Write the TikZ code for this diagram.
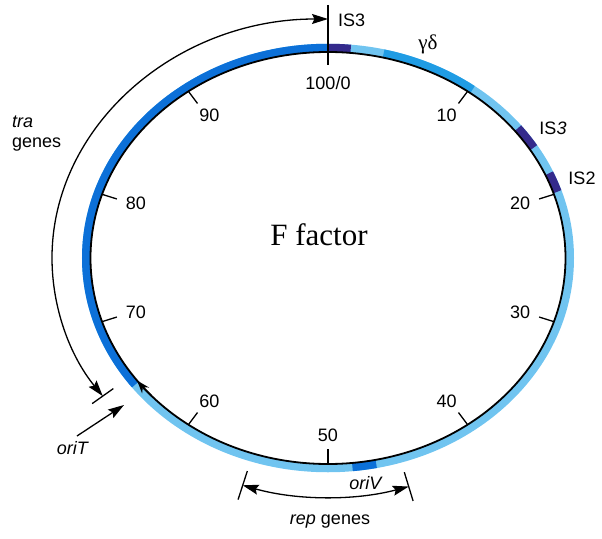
\documentclass[tikz,border=0pt]{standalone}
\usepackage{fontspec}
\setmainfont{Liberation Serif}
\setsansfont{Liberation Sans}
\usetikzlibrary{arrows.meta}

\definecolor{ringdark}{RGB}{12,112,216}
\definecolor{ringmid}{RGB}{32,156,228}
\definecolor{ringlight}{RGB}{112,196,240}
\definecolor{ringnavy}{RGB}{52,42,140}

% one coloured piece of the plasmid band: start angle, end angle, colour
\newcommand{\bandarc}[3]{%
  \draw [band, #3] (#1:241.75pt and 210pt) arc [start angle=#1, end angle=#2, x radius=241.75pt, y radius=210pt];}

\begin{document}
\begin{tikzpicture}[x=1pt, y=1pt, >={Stealth[length=16pt,width=10pt,inset=2.5pt]},
    band/.style={line width=8.5pt},
    ring/.style={line width=1.8pt},
    tick/.style={line width=1.3pt},
    arrow/.style={line width=1.3pt, ->},
    num/.style={font=\sffamily\fontsize{18}{20}\selectfont, inner sep=1pt}]

    \useasboundingbox (-328,-280) rectangle (274,258);

    % the band and its pieces
    \draw [band, ringlight] (0,0) ellipse [x radius=241.75pt, y radius=210pt];
    \bandarc{90}{217.1}{ringdark}
    \bandarc{84.6}{90}{ringnavy}
    \bandarc{53.3}{76.7}{ringmid}
    \bandarc{31.7}{38.2}{ringnavy}
    \bandarc{18.4}{23.8}{ringnavy}
    \bandarc{-84.2}{-78.5}{ringdark}
    \draw [ring] (0,0) ellipse [x radius=237.5pt, y radius=206pt];
    \draw [ring, -{Stealth[length=13pt,width=9pt]}] (-138:237.5pt and 206pt) arc [start angle=-138, end angle=-143.5, x radius=237.5pt, y radius=206pt];

    % map units
    \foreach \p in {10,20,...,90}{
        \pgfmathsetmacro{\a}{90-3.6*\p}
        \draw [tick] (\a:237.5pt and 206pt) -- (\a:222pt and 191pt);
        \node [num] (n\p) at (\a:202pt and 177pt) {\p};
    }
    \coordinate (is3top) at (0,253);
    \coordinate (is3bot) at (0,193);
    \draw [tick] (is3top) -- (is3bot);
    \node [num] (n100) at (0,175) {100/0};

    \node [num, anchor=west] (is3a) at (9,238) {IS3};
    \node [font=\fontsize{21}{24}\selectfont] (gd) at (100,214) {γδ};
    \node [num] (is3b) at (225,130) {IS\textit{3}};
    \node [num] (is2) at (254,80) {IS2};
    \node [font=\fontsize{31}{34}\selectfont] (title) at (-9,23) {F factor};

    % tra genes
    \node [num, align=left, anchor=west] (tra) at (-317,124) {\textit{tra}\\genes};
    \coordinate (traS) at (90:276pt and 239pt);
    \draw [arrow, <->] (traS) arc [start angle=90, end angle=215.3, x radius=276pt, y radius=239pt];
    \draw [tick] (-144.7:263pt and 226pt) -- (-144.7:289pt and 252pt);

    % oriT
    \node [num] (oriT) at (-255,-190) {\textit{oriT}};
    \coordinate (oriTtail) at (-251,-178);
    \coordinate (oriTtip) at (-204,-147);
    \draw [arrow] (oriTtail) -- (oriTtip);

    % rep genes
    \node [num] (oriV) at (38,-225) {\textit{oriV}};
    \node [num] (rep) at (2,-264) {\textit{rep} genes};
    \coordinate (repS) at (-108:276pt and 239pt);
    \draw [arrow, <->] (repS) arc [start angle=-108, end angle=-73, x radius=276pt, y radius=239pt];
    \draw [tick] (-108:261pt and 224pt) -- (-108:291pt and 254pt);
    \draw [tick] (-73:261pt and 224pt) -- (-73:291pt and 254pt);
\end{tikzpicture}
\end{document}
